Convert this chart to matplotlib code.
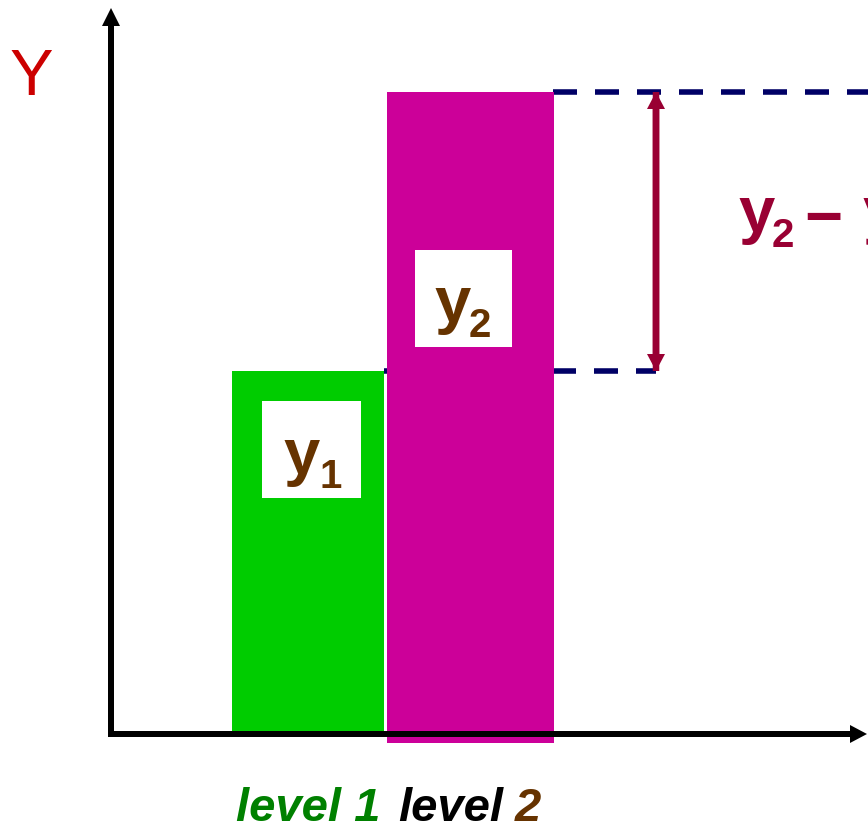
import matplotlib
matplotlib.use('Agg')
import matplotlib.pyplot as plt
from matplotlib.patches import Rectangle

plt.rcParams['font.family'] = ['Liberation Sans', 'DejaVu Sans']

# data (y in pixel-scale units above the x axis)
levels = ['level 1', 'level 2']
level_values = [363, 642]
bar_colors = ['#00CC00', '#CC0099']
box_subs = ['1', '2']
diff_label = ['y', '2', '\u2212', 'y', '1']

navy = '#000066'
wine = '#990033'
brown = '#663300'

fig = plt.figure(figsize=(8.68, 8.26), dpi=100)
ax = fig.add_axes([0, 0, 1, 1])
ax.set_xlim(0, 868)
ax.set_ylim(-92, 734)
ax.axis('off')

# bars
bar_x = [308, 470.5]
bar_w = [152, 167]
bar_bottom = [0, -9]
heights = [v - b for v, b in zip(level_values, bar_bottom)]
ax.bar(bar_x, heights, width=bar_w, bottom=bar_bottom, color=bar_colors,
       linewidth=0, zorder=2)

# dashed guide lines at the two bar tops
dash = (0, (4.32, 3.24))
ax.plot([384, 656], [level_values[0]] * 2, color=navy, lw=4, linestyle=dash, zorder=1)
ax.plot([553, 900], [level_values[1]] * 2, color=navy, lw=4, linestyle=dash, zorder=1)

# double arrow for the difference (two full-length arrows overlapping)
arr_x = 656
lo, hi = level_values
ax.arrow(arr_x, lo, 0, hi - lo, width=6.5, head_width=18, head_length=17,
         length_includes_head=True, color=wine, lw=0, zorder=3)
ax.arrow(arr_x, hi, 0, lo - hi, width=6.5, head_width=18, head_length=17,
         length_includes_head=True, color=wine, lw=0, zorder=3)

# axes with arrow heads
ax.arrow(111, -3, 0, 729, width=6, head_width=18, head_length=18,
         length_includes_head=True, color='black', lw=0, zorder=4)
ax.arrow(108, 0, 759, 0, width=6, head_width=18, head_length=17,
         length_includes_head=True, color='black', lw=0, zorder=4)

# white label boxes with y1, y2
boxes = [(262, 236, 99, 97), (415, 387, 97, 97)]
y_pos = [(283, 260, 320, 246), (434, 412, 469, 397)]
for (bx, by, bw, bh), (tx, ty, sx, sy), sub in zip(boxes, y_pos, box_subs):
    ax.add_patch(Rectangle((bx, by), bw, bh, facecolor='white', edgecolor='none', zorder=3))
    ax.text(tx, ty, 'y', fontsize=47, fontweight='bold', color=brown,
            ha='left', va='baseline', zorder=5)
    ax.text(sx, sy, sub, fontsize=29, fontweight='bold', color=brown,
            ha='left', va='baseline', zorder=5)

# y2 - y1 label (runs off the right edge)
ax.text(738, 502, diff_label[0], fontsize=47, fontweight='bold', color=wine, va='baseline')
ax.text(772, 487, diff_label[1], fontsize=29, fontweight='bold', color=wine, va='baseline')
ax.text(804, 496, diff_label[2], fontsize=47, fontweight='bold', color=wine, va='baseline')
ax.text(862, 502, diff_label[3], fontsize=47, fontweight='bold', color=wine, va='baseline')
ax.text(896, 487, diff_label[4], fontsize=29, fontweight='bold', color=wine, va='baseline')

# axis name
ax.text(31, 639, 'Y', fontsize=47, color='#CC0000', ha='center', va='baseline')

# level labels below the axis
lab = dict(fontsize=34, fontweight='bold', fontstyle='italic', va='baseline', ha='left')
ax.text(236, -87, levels[0], color='#008000', **lab)
ax.text(398, -87, levels[1].split()[0], color='black', **lab)
ax.text(515, -87, levels[1].split()[1], color=brown, **lab)

fig.savefig('out.png', dpi=100)
